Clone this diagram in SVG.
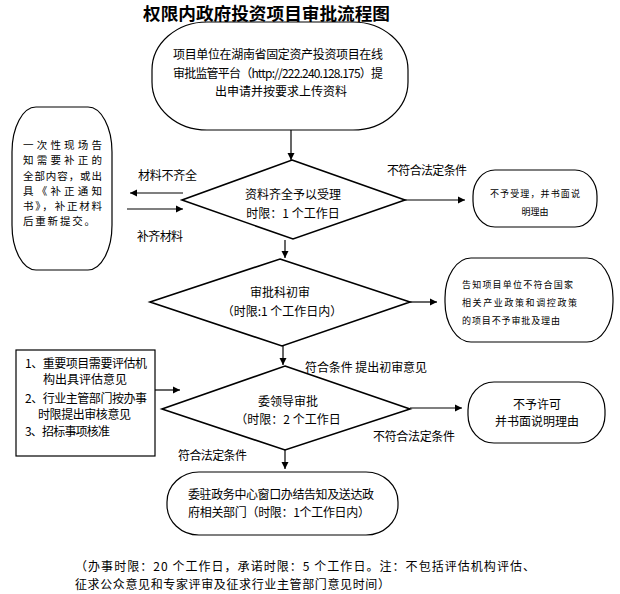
<svg xmlns="http://www.w3.org/2000/svg" width="620" height="594" viewBox="0 0 620 594">
<style>
text{font-family:"Noto Sans CJK SC","Noto Sans",sans-serif;fill:#000;}
.t{font-size:12px;}
.c{text-anchor:middle;}
.s{font-size:9px;}
.l{font-size:10.5px;}
.title{font-size:17px;font-weight:700;}
.box{fill:#fff;stroke:#000;stroke-width:1.2;}
.dia{fill:#fff;stroke:#000;stroke-width:1.6;}
.ln{fill:none;stroke:#000;stroke-width:1.2;marker-end:url(#ah);}
</style>
<defs>
<marker id="ah" markerWidth="8" markerHeight="8" refX="7" refY="4" orient="auto" markerUnits="userSpaceOnUse">
<path d="M0,0.5 L7,4 L0,7.5 Z" fill="#000"/>
</marker>
</defs>
<rect width="620" height="594" fill="#fff"/>
<text class="title" x="143" y="20" textLength="247" lengthAdjust="spacingAndGlyphs">权限内政府投资项目审批流程图</text>

<g id="connectors">
<line class="ln" x1="291" y1="130" x2="291" y2="160"/>
<line class="ln" x1="183" y1="193" x2="130" y2="193"/>
<line class="ln" x1="127" y1="209" x2="183" y2="209"/>
<line class="ln" x1="405" y1="200" x2="465" y2="200"/>
<line class="ln" x1="285" y1="240" x2="285" y2="258"/>
<line class="ln" x1="410" y1="302" x2="437" y2="302"/>
<line class="ln" x1="283" y1="346" x2="283" y2="365"/>
<line class="ln" x1="155" y1="390" x2="180" y2="390"/>
<line class="ln" x1="410" y1="408" x2="462" y2="408"/>
<line class="ln" x1="285" y1="450" x2="285" y2="469"/>
<text class="t" x="138" y="180" textLength="59">材料不齐全</text>
<text class="t" x="137" y="241" textLength="46">补齐材料</text>
<text class="t" x="387" y="175" textLength="80">不符合法定条件</text>
<text class="t" x="305" y="372" textLength="122">符合条件 提出初审意见</text>
<text class="t" x="373" y="441" textLength="82">不符合法定条件</text>
<text class="t" x="178" y="460" textLength="69">符合法定条件</text>
</g>

<g id="start">
<rect class="box" x="152" y="22" width="256" height="108" rx="55" ry="48"/>
<text class="t" x="173" y="59" textLength="210">项目单位在湖南省固定资产投资项目在线</text>
<text class="t" x="173" y="78" textLength="210">审批监管平台（http://222.240.128.175）提</text>
<text class="t c" x="281" y="96">出申请并按要求上传资料</text>
</g>

<g id="supplement">
<rect class="box" x="12" y="107" width="100" height="163" rx="24" ry="45"/>
<text class="l" x="23" y="149" textLength="79">一次性现场告</text>
<text class="l" x="23" y="164" textLength="79">知需要补正的</text>
<text class="l" x="23" y="180" textLength="79">全部内容，或出</text>
<text class="l" x="23" y="195" textLength="79">具《补正通知</text>
<text class="l" x="23" y="210" textLength="79">书》，补正材料</text>
<text class="l" x="23" y="225" textLength="72">后重新提交。</text>
</g>

<g id="accept">
<polygon class="dia" points="292,160 405,200 293,239 182,200"/>
<text class="t c" x="293" y="199">资料齐全予以受理</text>
<text class="t c" x="293" y="218">时限：1 个工作日</text>
</g>

<g id="reject1">
<rect class="box" x="473" y="170" width="124" height="57" rx="22" ry="26"/>
<text class="s" x="490" y="197" textLength="90">不予受理，并书面说</text>
<text class="s c" x="535" y="215">明理由</text>
</g>

<g id="prereview">
<polygon class="dia" points="280,259 410,302 282,346 150,302"/>
<text class="t c" x="280" y="297">审批科初审</text>
<text class="t c" x="282" y="316">（时限:1 个工作日内）</text>
</g>

<g id="reject2">
<rect class="box" x="445" y="258" width="168" height="84" rx="26" ry="40"/>
<text class="s" x="462" y="288" textLength="111">告知项目单位不符合国家</text>
<text class="s" x="462" y="306" textLength="115">相关产业政策和调控政策</text>
<text class="s" x="462" y="324" textLength="98">的项目不予审批及理由</text>
</g>

<g id="notes">
<rect x="16" y="350" width="139" height="106" fill="#fff" stroke="#000" stroke-width="1.2"/>
<text class="t" x="25" y="368" textLength="122">1、重要项目需要评估机</text>
<text class="t" x="43" y="384" textLength="84">构出具评估意见</text>
<text class="t" x="25" y="403" textLength="122">2、行业主管部门按办事</text>
<text class="t" x="38" y="419" textLength="93">时限提出审核意见</text>
<text class="t" x="25" y="436" textLength="85">3、招标事项核准</text>
</g>

<g id="approve">
<polygon class="dia" points="285,366 410,409 285,450 162,409"/>
<text class="t c" x="288" y="406">委领导审批</text>
<text class="t c" x="288" y="424">（时限：2 个工作日</text>
</g>

<g id="reject3">
<rect class="box" x="468" y="382" width="137" height="61" rx="26" ry="28"/>
<text class="t c" x="537" y="409">不予许可</text>
<text class="t c" x="537" y="426">并书面说明理由</text>
</g>

<g id="finish">
<rect class="box" x="167" y="472" width="231" height="63" rx="32" ry="30"/>
<text class="t" x="188" y="499" textLength="186">委驻政务中心窗口办结告知及送达政</text>
<text class="t" x="188" y="517" textLength="182">府相关部门（时限：1个工作日内）</text>
</g>

<text class="t" x="75" y="571" textLength="460">（办事时限：20 个工作日，承诺时限：5 个工作日。注：不包括评估机构评估、</text>
<text class="t" x="75" y="589" textLength="315">征求公众意见和专家评审及征求行业主管部门意见时间）</text>
</svg>
